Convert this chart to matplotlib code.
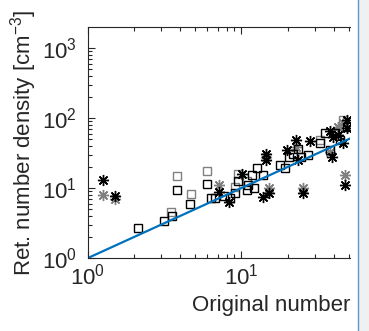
import numpy as np
import matplotlib
matplotlib.use("Agg")
from matplotlib import pyplot as plt
from matplotlib.ticker import LogLocator, FuncFormatter, NullFormatter
from matplotlib.patches import Rectangle
from matplotlib.lines import Line2D

plt.rcParams['font.family'] = ['Liberation Sans', 'DejaVu Sans']
plt.rcParams['mathtext.fontset'] = 'custom'
plt.rcParams['mathtext.rm'] = 'Liberation Sans'
plt.rcParams['mathtext.it'] = 'Liberation Sans'

# black asterisks
star_k_x = [1.26, 1.51, 7.17, 8.33, 10.1, 14.4, 14.4, 13.9, 15.2, 19.9, 22.6, 25.0, 27.9, 23.4,
            37.7, 38.7, 47.2, 48.5, 46.0, 42.7, 48.5, 39.6]
star_k_y = [13.1, 7.8, 8.9, 6.4, 15.7, 30.7, 25.2, 7.5, 8.6, 34.7, 48.8, 8.4, 47.7, 25.2,
            65.6, 28.1, 11.1, 94.2, 43.8, 57.5, 71.7, 54.4]
# grey asterisks
star_g_x = [1.26, 1.51, 7.17, 15.2, 25.0, 47.2, 14.4, 22.6, 46.0, 37.7, 42.7]
star_g_y = [8.0, 7.0, 11.1, 9.9, 9.9, 15.4, 28.1, 39.1, 84.5, 33.2, 75.6]
# black squares
sq_k_x = [2.13, 3.14, 3.51, 3.80, 4.64, 5.93, 6.33, 6.7, 7.69, 8.4, 9.07, 9.53, 10.8, 11.1, 11.7,
          12.6, 12.0, 13.9, 17.8, 19.3, 20.5, 21.7, 23.2, 24.5, 27.0, 32.5, 35.0, 37.7, 40.7,
          43.9, 48.5]
sq_k_y = [2.66, 3.42, 3.99, 9.4, 5.98, 11.3, 7.1, 7.1, 7.7, 7.1, 8.4, 12.4, 9.4, 11.2, 15.4,
          19.2, 9.9, 15.4, 21.4, 19.6, 28.1, 30.7, 35.9, 28.1, 29.7, 43.8, 60.8, 35.1, 60.8,
          48.8, 75.6]
# grey squares
sq_g_x = [3.78, 3.48, 4.67, 5.93, 9.53, 9.07, 10.8, 32.5, 41.7, 46.0]
sq_g_y = [14.9, 4.6, 8.2, 17.7, 15.9, 10.5, 12.4, 48.8, 64.1, 94.0]
# 1:1 line
line_x = [1, 60]

txt = '#262626'
grey = '#808080'
ast = (8, 2, 0)

fig = plt.figure(figsize=(3.69, 3.31), dpi=100)
ax = fig.add_axes([88/369, 73/331, 262/369, 231/331])

ax.plot(sq_g_x, sq_g_y, 's', ms=5.5, mfc='none', mec=grey, mew=1.0)
ax.plot(star_g_x, star_g_y, marker=ast, ls='none', ms=8, mec=grey, mew=1.0)
ax.plot(sq_k_x, sq_k_y, 's', ms=5.5, mfc='none', mec='black', mew=1.0)
ax.plot(star_k_x, star_k_y, marker=ast, ls='none', ms=8, mec='black', mew=1.0)
ax.plot(line_x, line_x, '-', color='#0072BD', lw=1.6)

ax.set_xscale('log')
ax.set_yscale('log')
ax.set_xlim(1, 10**1.707)
ax.set_ylim(1, 10**3.30)

fmt = FuncFormatter(lambda v, p: r'$\mathregular{10^{%d}}$' % round(np.log10(v)))
for a in (ax.xaxis, ax.yaxis):
    a.set_major_locator(LogLocator(base=10))
    a.set_minor_locator(LogLocator(base=10, subs=np.arange(2, 10)))
    a.set_major_formatter(fmt)
    a.set_minor_formatter(NullFormatter())

ax.tick_params(which='both', direction='in', top=True, right=False, colors=txt,
               labelsize=16, width=0.8)
ax.tick_params(which='major', length=5)
ax.tick_params(which='minor', length=3)
ax.tick_params(axis='x', pad=4)
ax.tick_params(axis='y', pad=8)
for s in ('left', 'bottom', 'top'):
    ax.spines[s].set_color(txt)
    ax.spines[s].set_linewidth(0.8)
ax.spines['right'].set_visible(False)

ax.set_xlabel('Original number', fontsize=16, color=txt, loc='right', labelpad=4)
ax.set_ylabel(r'Ret. number density [cm$^{\mathregular{-3}}$]', fontsize=16, color=txt,
              labelpad=2)

# right edge of the cropped window
fig.patches.append(Rectangle((358/369, 0), 11/369, 1, transform=fig.transFigure,
                             facecolor='#f0f0f0', edgecolor='none'))
fig.lines.append(Line2D([357.5/369, 357.5/369], [0, 1], transform=fig.transFigure,
                        color='#5b9bd5', lw=1))

fig.savefig('out.png', dpi=100)
